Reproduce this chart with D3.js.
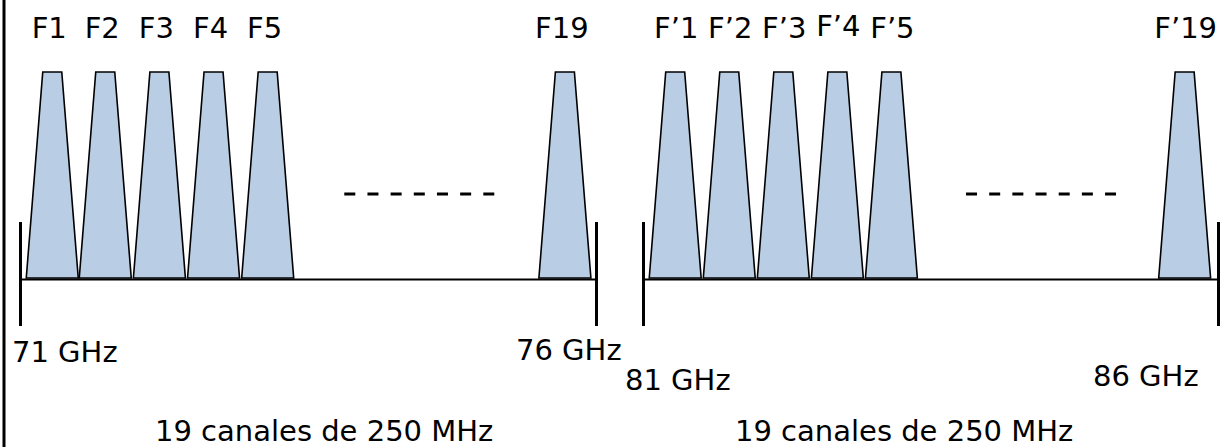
<!DOCTYPE html>
<html>
<head>
<meta charset="utf-8">
<script src="https://cdn.jsdelivr.net/npm/d3@7"></script>
<style>
  body { margin: 0; background: #fff; }
  svg text { font-family: "DejaVu Sans", Verdana, sans-serif; font-size: 29px; fill: #000; }
</style>
</head>
<body>
<svg id="chart" width="1223" height="447"></svg>
<script>
// E-band plan: two 5 GHz bands, 19 channels of 250 MHz each
// (only first five and last channel are drawn, schematic spacing)
var bandsGHz = [[71, 76], [81, 86]];
var labelsLow = ["F1", "F2", "F3", "F4", "F5", "F19"];
var labelsHigh = ["F’1", "F’2", "F’3", "F’4", "F’5", "F’19"];
var centresLow = [71.28, 71.74, 72.21, 72.68, 73.15, 75.73];
var centresHigh = [81.28, 81.75, 82.22, 82.69, 83.16, 85.71];
var edgeLabels = [["71 GHz", "76 GHz"], ["81 GHz", "86 GHz"]];
var captions = ["19 canales de 250 MHz", "19 canales de 250 MHz"];

var svg = d3.select("#chart");

// layout stuff
var panelRange = [[20, 596], [643, 1218]];
var axisY = 279;
var halfBottom = 0.2257, halfTop = 0.0825;   // GHz, drawn trapezoid shape
var edgeOffsets = [[[-8, 362], [-80, 360]], [[-18, 390], [-125, 386]]];
var captionX = [135, 92];
var labelDx = [-3, 1];
var labelDy = [[0, 0, 0, 0, 0, 0], [0, 0, 0, -2, 0, 0]];

var level = d3.scaleLinear().domain([0, 1]).range([278, 72]);

// left frame line
svg.append("line")
    .attr("x1", 4).attr("x2", 4)
    .attr("y1", 0).attr("y2", 447)
    .attr("stroke", "#000")
    .attr("stroke-width", 3);

var panels = [
  { band: bandsGHz[0], labels: labelsLow, centres: centresLow },
  { band: bandsGHz[1], labels: labelsHigh, centres: centresHigh }
];

panels.forEach(function(p, i) {
  var x = d3.scaleLinear().domain(p.band).range(panelRange[i]);
  var g = svg.append("g").attr("class", "panel");

  var line = d3.line()
      .x(function(d) { return x(d[0]); })
      .y(function(d) { return level(d[1]); });

  g.selectAll(".chan")
    .data(p.centres)
    .enter().append("path")
      .attr("class", "chan")
      .attr("d", function(c) {
        return line([[c - halfBottom, 0], [c - halfTop, 1], [c + halfTop, 1], [c + halfBottom, 0]]) + "Z";
      })
      .attr("fill", "#b9cde5")
      .attr("stroke", "#000")
      .attr("stroke-width", 1.6)
      .attr("stroke-linejoin", "miter");

  g.selectAll(".chan-label")
    .data(p.labels)
    .enter().append("text")
      .attr("class", "chan-label")
      .attr("x", function(d, j) { return x(p.centres[j]) + labelDx[i]; })
      .attr("y", function(d, j) { return 38 + labelDy[i][j]; })
      .attr("text-anchor", "middle")
      .text(function(d) { return d; });

  // axis with ticks at band edges, ticks stick out both ways
  var axis = d3.axisBottom(x)
      .tickValues(p.band)
      .tickSizeOuter(0)
      .tickSizeInner(47)
      .tickFormat("");
  var ax = g.append("g")
      .attr("transform", "translate(0," + axisY + ")")
      .call(axis);
  ax.select(".domain").attr("stroke", "#000").attr("stroke-width", 2);
  ax.selectAll(".tick line")
      .attr("y1", -57)
      .attr("stroke", "#000")
      .attr("stroke-width", 3);

  // dashed "..." between 5th and last channel
  var gapL = x(p.centres[4] + halfBottom), gapR = x(p.centres[5] - halfBottom);
  var mid = (gapL + gapR) / 2 + 3;
  g.append("line")
      .attr("x1", mid - 75).attr("x2", mid + 75)
      .attr("y1", 194).attr("y2", 194)
      .attr("stroke", "#000")
      .attr("stroke-width", 3)
      .attr("stroke-dasharray", "11,12.17");

  g.selectAll(".edge-label")
    .data(edgeLabels[i])
    .enter().append("text")
      .attr("class", "edge-label")
      .attr("x", function(d, j) { return x(p.band[j]) + edgeOffsets[i][j][0]; })
      .attr("y", function(d, j) { return edgeOffsets[i][j][1]; })
      .text(function(d) { return d; });

  g.append("text")
      .attr("x", x(p.band[0]) + captionX[i])
      .attr("y", 441)
      .text(captions[i]);
});
</script>
</body>
</html>
